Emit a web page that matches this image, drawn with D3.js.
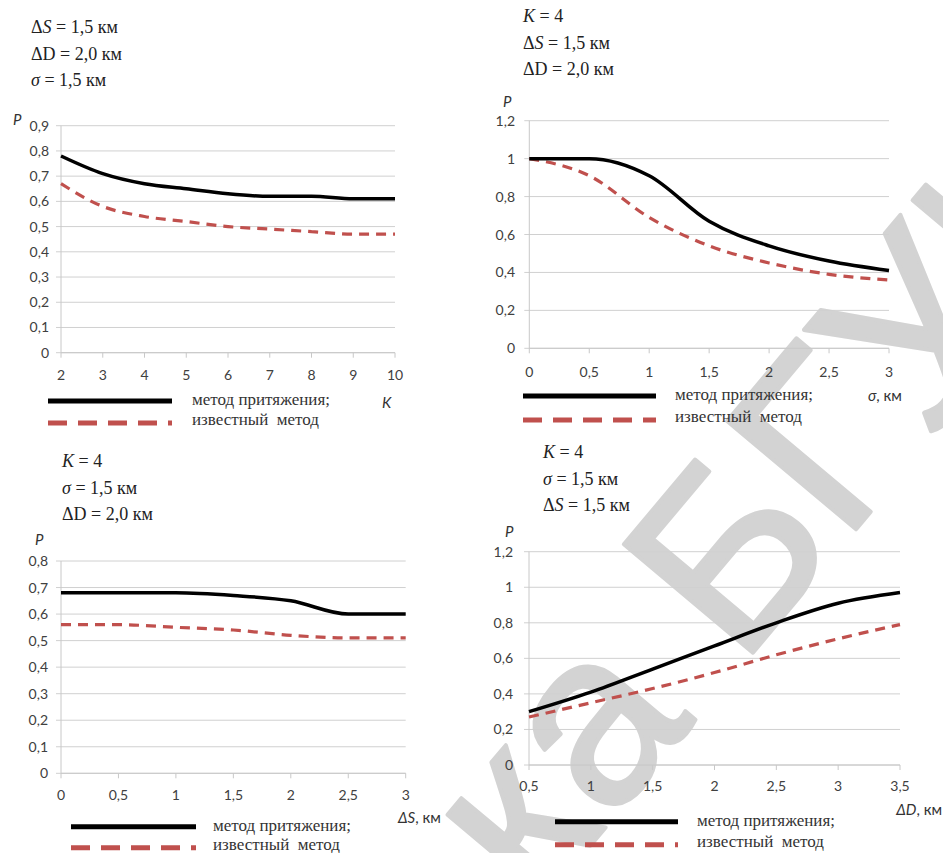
<!DOCTYPE html>
<html>
<head>
<meta charset="utf-8">
<script src="https://cdn.jsdelivr.net/npm/d3@7"></script>
<style>
  body { margin: 0; background: #fff; }
  svg { display: block; }
  .tick-label { font-family: Lato, "Open Sans", sans-serif; font-size: 14px; fill: #404040; }
  .axis-name { font-family: Lato, "Open Sans", sans-serif; font-style: italic; font-size: 15px; fill: #333; }
</style>
</head>
<body>
<div id="content"></div>
<script>
// datas
// P(K)
const kValues = [2, 3, 4, 5, 6, 7, 8, 9, 10];
const pAttrK  = [0.78, 0.71, 0.67, 0.65, 0.63, 0.62, 0.62, 0.61, 0.61];
const pKnownK = [0.67, 0.58, 0.54, 0.52, 0.50, 0.49, 0.48, 0.47, 0.47];
const yTicksK = [0, 0.1, 0.2, 0.3, 0.4, 0.5, 0.6, 0.7, 0.8, 0.9];

// P(sigma)
const sigmaValues = [0, 0.5, 1, 1.5, 2, 2.5, 3];
const pAttrSigma  = [1.0, 1.0, 0.91, 0.67, 0.54, 0.46, 0.41];
const pKnownSigma = [1.0, 0.91, 0.69, 0.54, 0.45, 0.39, 0.36];
const yTicksSigma = [0, 0.2, 0.4, 0.6, 0.8, 1, 1.2];

// P(dS)
const dsValues = [0, 0.5, 1, 1.5, 2, 2.5, 3];
const pAttrDS  = [0.68, 0.68, 0.68, 0.67, 0.65, 0.60, 0.60];
const pKnownDS = [0.56, 0.56, 0.55, 0.54, 0.52, 0.51, 0.51];
const yTicksDS = [0, 0.1, 0.2, 0.3, 0.4, 0.5, 0.6, 0.7, 0.8];

// P(dD)
const ddValues = [0.5, 1, 1.5, 2, 2.5, 3, 3.5];
const pAttrDD  = [0.30, 0.41, 0.54, 0.67, 0.80, 0.91, 0.97];
const pKnownDD = [0.27, 0.35, 0.43, 0.52, 0.62, 0.71, 0.79];
const yTicksDD = [0, 0.2, 0.4, 0.6, 0.8, 1, 1.2];

const legendNames = ["метод притяжения;", "известный  метод"];

// view
const w = 943;
const h = 853;
const red = "#c0504d";
const serif = "'Liberation Serif', 'Times New Roman', Tinos, 'DejaVu Serif', serif";

const svg = d3.select("#content")
            .append("svg")
            .attr("width", w)
            .attr("height", h);

// watermark
const wm = svg.append("g")
              .attr("fill", "#d3d3d3")
              .attr("stroke", "#d3d3d3")
              .attr("stroke-width", 4)
              .attr("stroke-linejoin", "round")
              .attr("font-family", "'Liberation Sans', Arial, sans-serif")
              .attr("font-size", 245);
wm.append("text")
  .attr("transform", "translate(696,720) rotate(-50)")
  .attr("text-anchor", "end")
  .text("Библиотека");
wm.append("text")
  .attr("transform", "translate(740,668) rotate(-50)")
  .text("БГУИР");

const fmt = d => String(d).replace(".", ",");

function drawPanel(p) {
  const x = d3.scaleLinear().domain(p.xDomain).range([p.left, p.right]);
  const y = d3.scaleLinear().domain([0, d3.max(p.yTicks)]).range([p.bottom, p.top]);
  const g = svg.append("g");

  // grid
  g.selectAll("line.grid")
   .data(p.yTicks)
   .enter()
   .append("line")
   .attr("x1", p.left - 5)
   .attr("x2", p.right)
   .attr("y1", d => y(d))
   .attr("y2", d => y(d))
   .attr("stroke", "#d0d0d0")
   .attr("stroke-width", 1);

  // axes
  g.append("line")
   .attr("x1", p.left).attr("x2", p.left)
   .attr("y1", p.top).attr("y2", p.bottom)
   .attr("stroke", "#c8c8c8");
  g.append("line")
   .attr("x1", p.left).attr("x2", p.right)
   .attr("y1", p.bottom).attr("y2", p.bottom)
   .attr("stroke", "#c8c8c8");
  g.selectAll("line.xt")
   .data(p.xs)
   .enter()
   .append("line")
   .attr("x1", d => x(d)).attr("x2", d => x(d))
   .attr("y1", p.bottom).attr("y2", p.bottom + 5)
   .attr("stroke", "#c8c8c8");

  // tick labels
  g.selectAll("text.yl")
   .data(p.yTicks)
   .enter()
   .append("text")
   .attr("class", "tick-label")
   .attr("x", p.yLabelX)
   .attr("y", d => y(d) + 5)
   .attr("text-anchor", "end")
   .text(fmt);
  g.selectAll("text.xl")
   .data(p.xs)
   .enter()
   .append("text")
   .attr("class", "tick-label")
   .attr("x", d => x(d))
   .attr("y", p.xLabelY)
   .attr("text-anchor", "middle")
   .text(fmt);

  // series
  const line = d3.line()
                 .x(d => x(d[0]))
                 .y(d => y(d[1]))
                 .curve(d3.curveMonotoneX);
  g.append("path")
   .attr("d", line(d3.zip(p.xs, p.known)))
   .attr("fill", "none")
   .attr("stroke", red)
   .attr("stroke-width", 3.2)
   .attr("stroke-dasharray", "10,7");
  g.append("path")
   .attr("d", line(d3.zip(p.xs, p.attr)))
   .attr("fill", "none")
   .attr("stroke", "#000")
   .attr("stroke-width", 3.5);

  // P label
  g.append("text")
   .attr("class", "axis-name")
   .attr("x", p.pLabel[0])
   .attr("y", p.pLabel[1])
   .attr("font-size", 14)
   .text("P");

  // x name
  const xn = g.append("text")
              .attr("class", "axis-name")
              .attr("x", p.xName[0])
              .attr("y", p.xName[1])
              .attr("text-anchor", p.xName[2]);
  xn.append("tspan").text(p.xName[3]);
  if (p.xName[4]) xn.append("tspan").attr("font-style", "normal").text(p.xName[4]);

  // legend
  const lg = p.legend;
  g.append("line")
   .attr("x1", lg.x1).attr("x2", lg.x2)
   .attr("y1", lg.y).attr("y2", lg.y)
   .attr("stroke", "#000").attr("stroke-width", 5);
  g.append("line")
   .attr("x1", lg.x1).attr("x2", lg.x2)
   .attr("y1", lg.y + lg.dy).attr("y2", lg.y + lg.dy)
   .attr("stroke", red).attr("stroke-width", 5)
   .attr("stroke-dasharray", "19,11");
  g.selectAll("text.lt")
   .data(legendNames)
   .enter()
   .append("text")
   .attr("font-family", serif)
   .attr("font-size", 17)
   .attr("fill", "#333")
   .attr("x", lg.tx)
   .attr("y", (d, i) => lg.y + 4 + i * (lg.dy - 2))
   .style("white-space", "pre")
   .text(d => d);

  // notes
  p.notes.forEach((n, i) => {
    const t = g.append("text")
               .attr("font-family", serif)
               .attr("font-size", 18)
               .attr("fill", "#222")
               .attr("x", p.noteX)
               .attr("y", p.noteY + i * 26.5);
    n.forEach(part => {
      t.append("tspan")
       .attr("font-style", part[1] ? "italic" : "normal")
       .text(part[0]);
    });
  });
}

const noteK  = [["K", true], [" = 4", false]];
const noteS  = [["Δ", false], ["S", true], [" = 1,5 км", false]];
const noteD  = [["ΔD = 2,0 км", false]];
const noteSg = [["σ", true], [" = 1,5 км", false]];

drawPanel({
  xs: kValues, attr: pAttrK, known: pKnownK, yTicks: yTicksK,
  xDomain: [2, 10], left: 61, right: 395, top: 125.7, bottom: 352.7,
  yLabelX: 49, xLabelY: 380, pLabel: [13, 125],
  xName: [382, 408, "start", "K"],
  legend: {x1: 48, x2: 172, y: 401, dy: 22, tx: 192},
  notes: [noteS, noteD, noteSg], noteX: 31, noteY: 33
});

drawPanel({
  xs: sigmaValues, attr: pAttrSigma, known: pKnownSigma, yTicks: yTicksSigma,
  xDomain: [0, 3], left: 529.3, right: 889, top: 120.7, bottom: 348.3,
  yLabelX: 515, xLabelY: 377, pLabel: [503, 107],
  xName: [868, 401, "start", "σ", ", км"],
  legend: {x1: 523, x2: 656, y: 396, dy: 24, tx: 675},
  notes: [noteK, noteS, noteD], noteX: 523, noteY: 22
});

drawPanel({
  xs: dsValues, attr: pAttrDS, known: pKnownDS, yTicks: yTicksDS,
  xDomain: [0, 3], left: 61, right: 405.7, top: 561, bottom: 773.3,
  yLabelX: 48, xLabelY: 800, pLabel: [35, 545],
  xName: [398, 823, "start", "ΔS", ", км"],
  legend: {x1: 71, x2: 196, y: 826.7, dy: 21, tx: 213},
  notes: [noteK, noteSg, noteD], noteX: 62, noteY: 467
});

drawPanel({
  xs: ddValues, attr: pAttrDD, known: pKnownDD, yTicks: yTicksDD,
  xDomain: [0.5, 3.5], left: 529, right: 900, top: 551.7, bottom: 765,
  yLabelX: 513, xLabelY: 791, pLabel: [505, 537],
  xName: [942, 815, "end", "ΔD", ", км"],
  legend: {x1: 555, x2: 678, y: 821.7, dy: 23, tx: 697},
  notes: [noteK, noteSg, noteS], noteX: 543, noteY: 458
});
</script>
</body>
</html>
